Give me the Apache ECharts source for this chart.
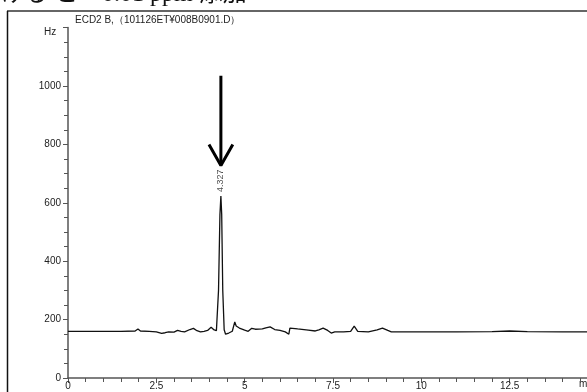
<!DOCTYPE html>
<html><head><meta charset="utf-8">
<script src="https://cdn.jsdelivr.net/npm/echarts@6/dist/echarts.min.js"></script>
<style>html,body{margin:0;padding:0;background:#fff}#c{width:587px;height:392px}</style>
</head><body><div id="c"></div>
<script>
// chromatogram trace: [retention time (min), signal (Hz)]
const trace = [[0,160],[0.5,160],[1.0,160],[1.5,160],[1.9,161],[1.98,168],[2.05,161],[2.3,160],[2.5,158],[2.65,153],[2.75,155],[2.85,158],[3.0,157],[3.1,163],[3.2,160],[3.3,158],[3.45,166],[3.55,170],[3.65,162],[3.75,158],[3.85,160],[3.95,163],[4.05,174],[4.12,166],[4.2,162],[4.26,300],[4.3,560],[4.327,623],[4.35,560],[4.38,300],[4.42,165],[4.46,150],[4.55,154],[4.65,160],[4.72,192],[4.76,178],[4.85,171],[5.0,164],[5.1,160],[5.2,170],[5.3,167],[5.5,168],[5.6,172],[5.72,175],[5.85,166],[6.0,163],[6.15,158],[6.25,150],[6.28,171],[6.5,168],[6.8,164],[7.0,161],[7.1,165],[7.22,171],[7.35,163],[7.45,154],[7.55,158],[7.8,158],[8.0,160],[8.1,178],[8.2,160],[8.5,158],[8.75,165],[8.9,171],[9.05,163],[9.15,158],[10,158],[11,158],[12,159],[12.5,161],[13,159],[14,158],[15,158]];
const peakLabel = [[4.327, 623]];
const arrowShaft = [[4.327, 1035], [4.327, 728]];
const arrowHead = [[3.99, 800], [4.327, 728], [4.664, 800]];
const yTicks = [0, 200, 400, 600, 800, 1000];
const xTicks = [0, 2.5, 5, 7.5, 10, 12.5];
const titleText = 'ECD2 B,（101126ET¥008B0901.D）';

const chart = echarts.init(document.getElementById('c'), null, {renderer: 'canvas'});
const axisCol = '#555';
chart.setOption({
  animation: false,
  backgroundColor: '#fff',
  title: {text: titleText, left: 70, top: 10,
    textStyle: {fontFamily: 'Liberation Sans, Arial', fontSize: 10, fontWeight: 'normal', color: '#222'}},
  grid: {left: 68, top: 27.6, width: 530, bottom: 14, containLabel: false, outerBoundsMode: 'none'},
  xAxis: {type: 'value', min: 0, max: 15, interval: 2.5,
    axisLine: {lineStyle: {color: axisCol, width: 1.5}},
    axisTick: {length: 5, lineStyle: {color: axisCol}},
    minorTick: {show: true, splitNumber: 5, length: 4, lineStyle: {color: axisCol}},
    splitLine: {show: false},
    axisLabel: {margin: 3, fontSize: 10, fontFamily: 'Liberation Sans, Arial', color: '#222', hideOverlap: false,
      formatter: v => xTicks.indexOf(v) >= 0 ? String(v) : ''}},
  yAxis: {type: 'value', min: 0, max: 1200, interval: 200,
    axisLine: {lineStyle: {color: axisCol, width: 1.5}},
    axisTick: {length: 5, lineStyle: {color: axisCol}},
    minorTick: {show: true, splitNumber: 4, length: 4, lineStyle: {color: axisCol}},
    splitLine: {show: false},
    axisLabel: {margin: 7, fontSize: 10, fontFamily: 'Liberation Sans, Arial', color: '#222',
      formatter: v => yTicks.indexOf(v) >= 0 ? String(v) : ''}},
  graphic: [
    {type: 'line', shape: {x1: 7, y1: 11, x2: 587, y2: 11}, style: {stroke: '#666', lineWidth: 2}},
    {type: 'line', shape: {x1: 7.5, y1: 11, x2: 7.5, y2: 392}, style: {stroke: '#111', lineWidth: 1.5}},
    {type: 'text', left: 44, top: 27, style: {text: 'Hz', fontSize: 10, fontFamily: 'Liberation Sans, Arial', fill: '#222'}},
    {type: 'text', left: 579, top: 379, style: {text: 'min', fontSize: 10, fontFamily: 'Liberation Sans, Arial', fill: '#222'}},
    {type: 'text', left: 0, top: -17, style: {text: 'ける と　0.01 ppm 添加', fontSize: 24, fontFamily: 'Liberation Serif, Noto Sans CJK JP, serif', fill: '#111'}}
  ],
  series: [
    {type: 'line', data: trace, showSymbol: false, lineStyle: {color: '#111', width: 1.3}, z: 3},
    {type: 'scatter', data: peakLabel, symbolSize: 0,
      label: {show: true, position: 'top', distance: 4, rotate: 90, formatter: '4.327', fontSize: 9,
        fontFamily: 'Liberation Sans, Arial', color: '#222', align: 'left', verticalAlign: 'middle'}},
    {type: 'line', data: arrowShaft, showSymbol: false, lineStyle: {color: '#000', width: 3}},
    {type: 'line', data: arrowHead, showSymbol: false, lineStyle: {color: '#000', width: 3}}
  ]
});
</script></body></html>
